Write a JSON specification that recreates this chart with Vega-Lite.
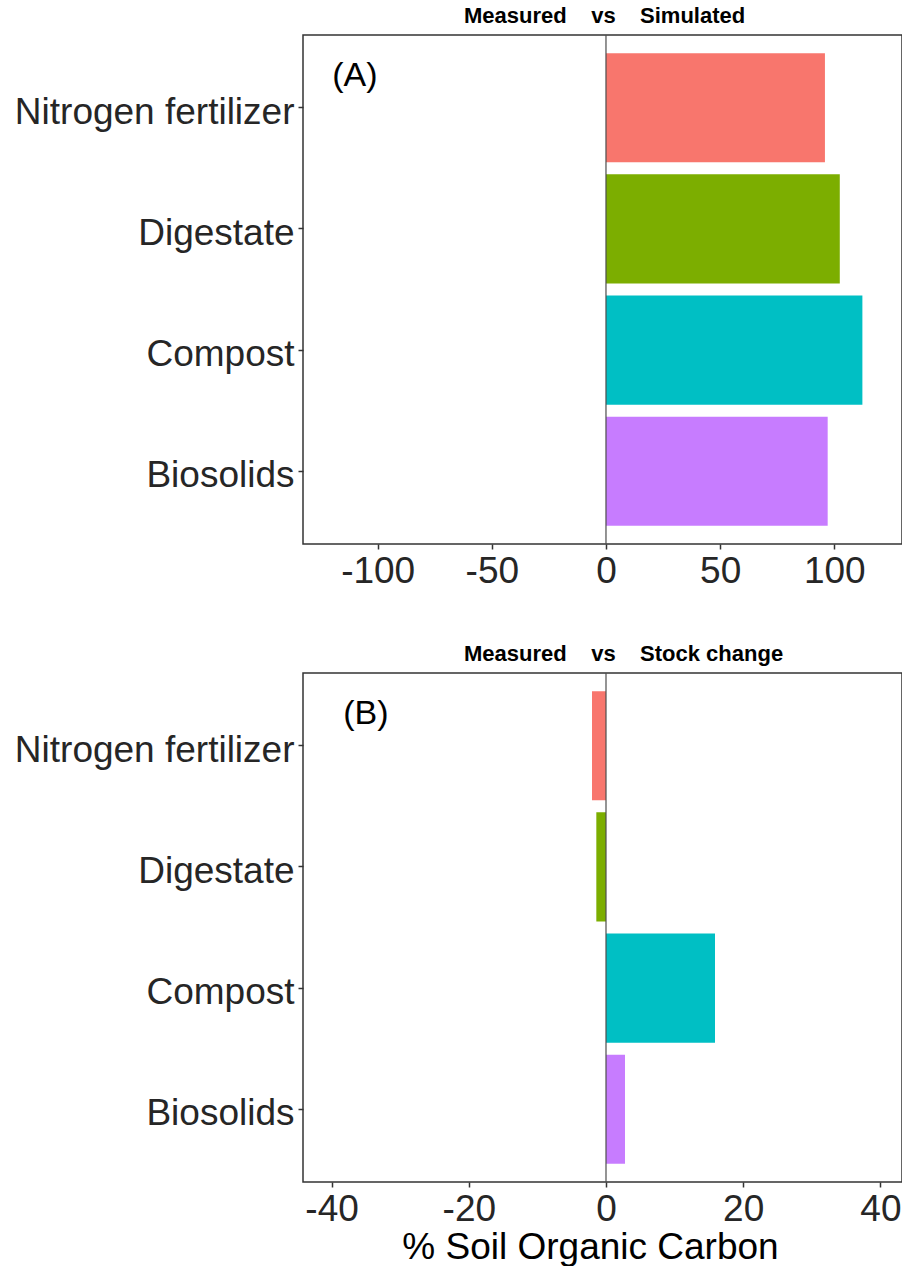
{
  "$schema": "https://vega.github.io/schema/vega-lite/v6.json",
  "background": "white",
  "padding": {"left": 13, "top": 4, "right": 0, "bottom": 0},
  "bounds": "flush",
  "spacing": 129,
  "config": {
    "font": "Liberation Sans",
    "view": {"stroke": "#333333", "strokeWidth": 1.5},
    "axis": {
      "grid": false,
      "domain": false,
      "tickColor": "#333333",
      "tickSize": 5,
      "tickWidth": 1.5,
      "labelFont": "Liberation Sans",
      "labelFontSize": 37,
      "labelColor": "#262626",
      "labelLimit": 0,
      "titleFont": "Liberation Sans",
      "titleFontSize": 37,
      "titleFontWeight": "normal",
      "titleColor": "#000000"
    },
    "title": {
      "font": "Liberation Sans",
      "fontSize": 22,
      "fontWeight": "bold",
      "color": "#000000",
      "anchor": "start",
      "frame": "group"
    }
  },
  "datasets": {
    "simulated": [
      {"treatment": "Nitrogen fertilizer", "percent": 95.9},
      {"treatment": "Digestate", "percent": 102.4},
      {"treatment": "Compost", "percent": 112.3},
      {"treatment": "Biosolids", "percent": 97.1}
    ],
    "stock_change": [
      {"treatment": "Nitrogen fertilizer", "percent": -2.04},
      {"treatment": "Digestate", "percent": -1.41},
      {"treatment": "Compost", "percent": 15.89},
      {"treatment": "Biosolids", "percent": 2.77}
    ]
  },
  "vconcat": [
    {
      "title": {"text": "Measured\u00a0\u00a0\u00a0\u00a0vs\u00a0\u00a0\u00a0\u00a0Simulated", "dx": 161, "offset": 6},
      "width": 599,
      "height": 509,
      "layer": [
        {
          "data": {"name": "simulated"},
          "mark": {"type": "bar"},
          "encoding": {
            "y": {
              "field": "treatment",
              "type": "nominal",
              "sort": ["Nitrogen fertilizer", "Digestate", "Compost", "Biosolids"],
              "scale": {"paddingInner": 0.1, "paddingOuter": 0.15},
              "axis": {"title": null, "labelPadding": 4, "labelOffset": 5}
            },
            "x": {
              "field": "percent",
              "type": "quantitative",
              "scale": {"domain": [-132.7, 129.65], "nice": false, "zero": false},
              "axis": {
                "title": null,
                "values": [-100, -50, 0, 50, 100],
                "labelPadding": 4,
                "labelExpr": "replace(datum.label, '\u2212', '-')"
              }
            },
            "color": {
              "field": "treatment",
              "type": "nominal",
              "scale": {
                "domain": ["Nitrogen fertilizer", "Digestate", "Compost", "Biosolids"],
                "range": ["#F8766D", "#7CAE00", "#00BFC4", "#C77CFF"]
              },
              "legend": null
            }
          }
        },
        {
          "data": {"values": [{}]},
          "mark": {"type": "rule", "color": "#4d4d4d", "strokeWidth": 1.2},
          "encoding": {"x": {"datum": 0}}
        },
        {
          "data": {"values": [{}]},
          "mark": {"type": "text", "fontSize": 34, "dy": -32, "color": "#000000", "align": "center"},
          "encoding": {
            "x": {"datum": -110},
            "y": {"datum": "Nitrogen fertilizer"},
            "text": {"value": "(A)"}
          }
        }
      ]
    },
    {
      "title": {"text": "Measured\u00a0\u00a0\u00a0\u00a0vs\u00a0\u00a0\u00a0\u00a0Stock change", "dx": 161, "offset": 6},
      "width": 599,
      "height": 509,
      "layer": [
        {
          "data": {"name": "stock_change"},
          "mark": {"type": "bar"},
          "encoding": {
            "y": {
              "field": "treatment",
              "type": "nominal",
              "sort": ["Nitrogen fertilizer", "Digestate", "Compost", "Biosolids"],
              "scale": {"paddingInner": 0.1, "paddingOuter": 0.15},
              "axis": {"title": null, "labelPadding": 4, "labelOffset": 5}
            },
            "x": {
              "field": "percent",
              "type": "quantitative",
              "scale": {"domain": [-44.17, 43.15], "nice": false, "zero": false},
              "axis": {
                "title": "% Soil Organic Carbon",
                "values": [-40, -20, 0, 20, 40],
                "labelPadding": 4,
                "labelExpr": "replace(datum.label, '\u2212', '-')",
                "titlePadding": 2,
                "titleX": 287
              }
            },
            "color": {
              "field": "treatment",
              "type": "nominal",
              "scale": {
                "domain": ["Nitrogen fertilizer", "Digestate", "Compost", "Biosolids"],
                "range": ["#F8766D", "#7CAE00", "#00BFC4", "#C77CFF"]
              },
              "legend": null
            }
          }
        },
        {
          "data": {"values": [{}]},
          "mark": {"type": "rule", "color": "#4d4d4d", "strokeWidth": 1.2},
          "encoding": {"x": {"datum": 0}}
        },
        {
          "data": {"values": [{}]},
          "mark": {"type": "text", "fontSize": 34, "dy": -32, "color": "#000000", "align": "center"},
          "encoding": {
            "x": {"datum": -35},
            "y": {"datum": "Nitrogen fertilizer"},
            "text": {"value": "(B)"}
          }
        }
      ]
    }
  ]
}
